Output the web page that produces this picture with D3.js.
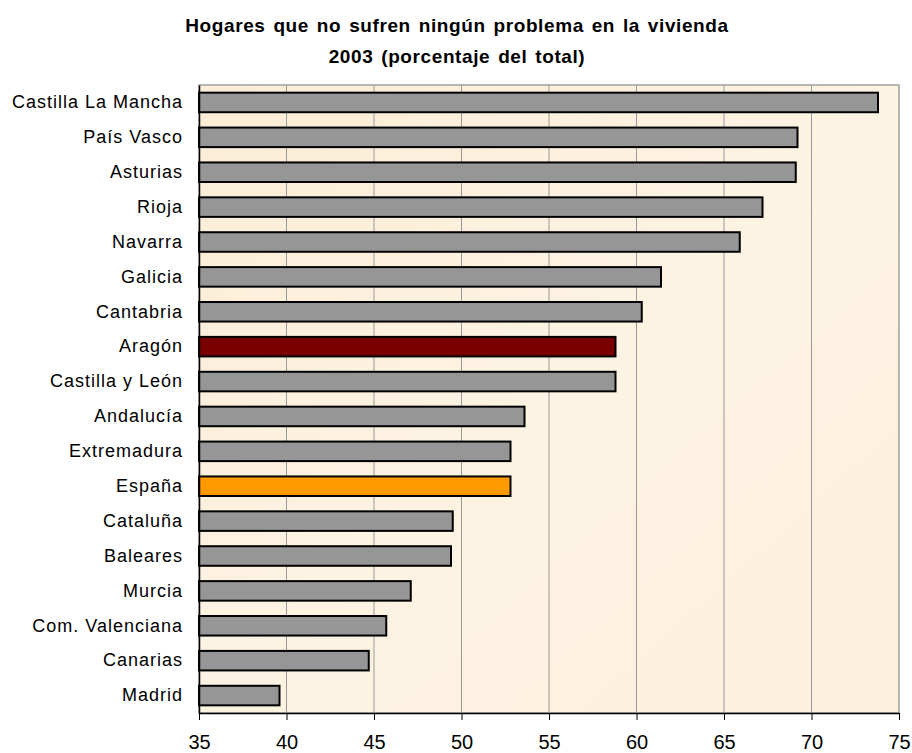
<!DOCTYPE html>
<html>
<head>
<meta charset="utf-8">
<script src="https://cdn.jsdelivr.net/npm/d3@7"></script>
<style>
  body { margin: 0; background: #fff; }
  svg { display: block; font-family: Arial, "Liberation Sans", sans-serif; }
</style>
</head>
<body>
<div id="chart"></div>
<script>
// data
var regions = ['Castilla La Mancha', 'País Vasco', 'Asturias', 'Rioja', 'Navarra', 'Galicia',
    'Cantabria', 'Aragón', 'Castilla y León', 'Andalucía', 'Extremadura', 'España',
    'Cataluña', 'Baleares', 'Murcia', 'Com. Valenciana', 'Canarias', 'Madrid'];
var values = [73.8, 69.2, 69.1, 67.2, 65.9, 61.4, 60.3, 58.8, 58.8, 53.6, 52.8, 52.8,
    49.5, 49.4, 47.1, 45.7, 44.7, 39.6];
var xTicks = [35, 40, 45, 50, 55, 60, 65, 70, 75];
var titleLines = ['Hogares que no sufren ningún problema en la vivienda', '2003 (porcentaje del total)'];

var width = 912;
var height = 753;
var margin = {top: 85, right: 13, bottom: 40, left: 199};
var plotW = width - margin.left - margin.right;
var plotH = height - margin.top - margin.bottom;

function barColor(name){
    if (name === 'Aragón') return '#7a0000';
    if (name === 'España') return '#ff9900';
    return '#969696';
}

var svg = d3.select('#chart')
    .append('svg')
    .attr('width', width)
    .attr('height', height);

// soft paper background for plot area
var defs = svg.append('defs');
var grad = defs.append('linearGradient')
    .attr('id', 'paper')
    .attr('x1', '0%').attr('y1', '0%')
    .attr('x2', '100%').attr('y2', '100%');
grad.append('stop').attr('offset', '0%').attr('stop-color', '#fbedd6');
grad.append('stop').attr('offset', '50%').attr('stop-color', '#fdf3e3');
grad.append('stop').attr('offset', '100%').attr('stop-color', '#fcf0dd');

//title
svg.append('g')
    .attr('class', 'title')
    .selectAll('text')
    .data(titleLines)
    .enter()
    .append('text')
    .attr('x', 457)
    .attr('y', function(d, i){ return 32 + i * 31; })
    .attr('text-anchor', 'middle')
    .style('font-size', '19px')
    .style('font-weight', 'bold')
    .style('letter-spacing', '0.6px')
    .style('word-spacing', '2px')
    .style('fill', '#000')
    .text(function(d){ return d; });

var x = d3.scaleLinear()
    .domain([35, 75])
    .range([0, plotW]);

var y = d3.scaleBand()
    .domain(regions)
    .range([0, plotH])
    .paddingInner(0.44)
    .paddingOuter(0.22);

var g = svg.append('g')
    .attr('transform', 'translate(' + margin.left + ',' + margin.top + ')');

g.append('rect')
    .attr('class', 'background')
    .attr('width', plotW)
    .attr('height', plotH)
    .style('fill', 'url(#paper)')
    .style('stroke', '#a0a0a0')
    .style('stroke-width', 1.5);

// vertical gridlines
g.append('g')
    .attr('class', 'grid')
    .selectAll('line')
    .data(xTicks.slice(1, -1))
    .enter()
    .append('line')
    .attr('x1', function(d){ return x(d); })
    .attr('x2', function(d){ return x(d); })
    .attr('y1', 0)
    .attr('y2', plotH)
    .style('stroke', '#9a9a9a')
    .style('stroke-width', 1);

// bars
g.append('g')
    .attr('class', 'bars')
    .selectAll('rect')
    .data(regions)
    .enter()
    .append('rect')
    .attr('x', 0)
    .attr('y', function(d){ return y(d); })
    .attr('width', function(d, i){ return x(values[i]) - x(35); })
    .attr('height', y.bandwidth())
    .style('fill', function(d){ return barColor(d); })
    .style('stroke', '#000')
    .style('stroke-width', 2);

// left axis
var yAxis = g.append('g')
    .attr('class', 'y-axis')
    .call(d3.axisLeft(y).tickSize(0).tickPadding(16));
yAxis.select('.domain').style('stroke', '#000').style('stroke-width', 1.5);
yAxis.selectAll('text')
    .style('font-size', '18px')
    .style('letter-spacing', '1px')
    .style('font-family', 'Arial, "Liberation Sans", sans-serif')
    .style('fill', '#000');

// bottom axis
var xAxis = g.append('g')
    .attr('class', 'x-axis')
    .attr('transform', 'translate(0,' + plotH + ')')
    .call(d3.axisBottom(x).tickValues(xTicks).tickSize(7).tickPadding(15).tickSizeOuter(0));
xAxis.select('.domain').style('stroke', '#000').style('stroke-width', 1.5);
xAxis.selectAll('.tick line').style('stroke', '#000');
xAxis.selectAll('text')
    .style('font-size', '20px')
    .style('font-family', 'Arial, "Liberation Sans", sans-serif')
    .style('fill', '#000');
</script>
</body>
</html>
